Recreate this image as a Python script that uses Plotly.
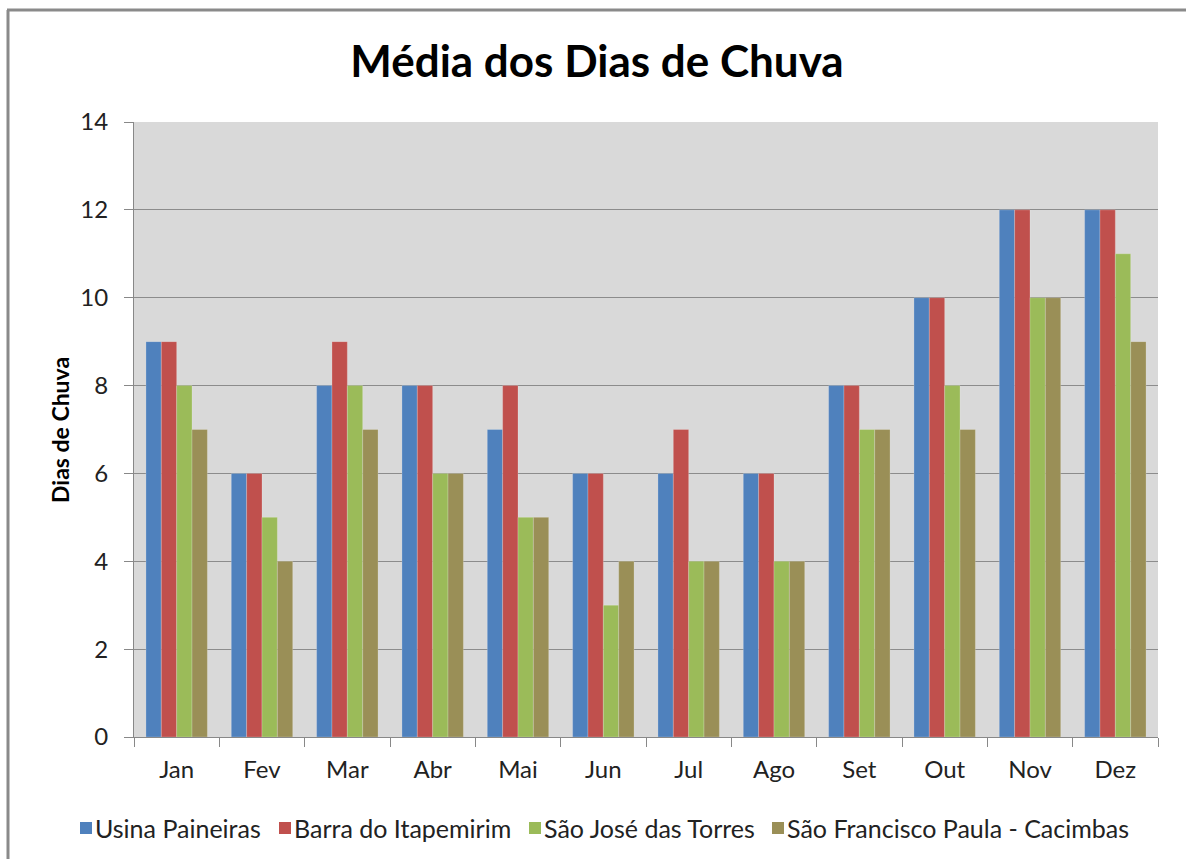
import plotly.graph_objects as go

# Monthly average number of rainy days per station
meses = ["Jan", "Fev", "Mar", "Abr", "Mai", "Jun", "Jul", "Ago", "Set", "Out", "Nov", "Dez"]
usina_paineiras = [9, 6, 8, 8, 7, 6, 6, 6, 8, 10, 12, 12]
barra_itapemirim = [9, 6, 9, 8, 8, 6, 7, 6, 8, 10, 12, 12]
sao_jose_torres = [8, 5, 8, 6, 5, 3, 4, 4, 7, 8, 10, 11]
sao_francisco_cacimbas = [7, 4, 7, 6, 5, 4, 4, 4, 7, 7, 10, 9]

series = [
    ("Usina Paineiras", usina_paineiras, "#4F81BD"),
    ("Barra do Itapemirim", barra_itapemirim, "#C0504D"),
    ("São José das Torres", sao_jose_torres, "#9BBB59"),
    ("São Francisco Paula - Cacimbas", sao_francisco_cacimbas, "#9A8F57"),
]

FONT = "Lato"

fig = go.Figure()
for nome, valores, cor in series:
    fig.add_trace(go.Bar(
        name=nome, x=meses, y=valores, showlegend=False,
        marker=dict(color=cor, line=dict(color="rgba(255,255,255,0.35)", width=0.6)),
    ))

W, H = 1186, 859
L, R, T, B = 134, 28, 122, 122
pw, ph = W - L - R, H - T - B

def px_x(x):
    return (x - L) / pw

def px_y(y):
    return 1 - (y - T) / ph

# single-row legend drawn below the x axis: swatch left edges in pixels
legend_left = [80, 279, 529, 772]
legend_mid = 828
swatch = 12

shapes = [
    # outer chart frame: left and top edges
    dict(type="line", xref="paper", yref="paper",
         x0=px_x(8), x1=px_x(8), y0=px_y(10), y1=px_y(H + 5),
         line=dict(color="#8A8A8A", width=3)),
    dict(type="line", xref="paper", yref="paper",
         x0=px_x(7), x1=px_x(W + 5), y0=px_y(10), y1=px_y(10),
         line=dict(color="#8A8A8A", width=3)),
]
annotations = [dict(
    text="<b>Dias de Chuva</b>",
    xref="paper", yref="paper",
    x=px_x(60), y=px_y(430),
    xanchor="center", yanchor="middle",
    textangle=-90, showarrow=False,
    font=dict(family=FONT, size=23, color="black"),
)]
for (nome, _, cor), x0 in zip(series, legend_left):
    shapes.append(dict(
        type="rect", xref="paper", yref="paper",
        x0=px_x(x0), x1=px_x(x0 + swatch),
        y0=px_y(legend_mid + swatch / 2), y1=px_y(legend_mid - swatch / 2),
        fillcolor=cor, line=dict(width=0),
    ))
    annotations.append(dict(
        text=nome, xref="paper", yref="paper",
        x=px_x(x0 + swatch + 1), y=px_y(legend_mid),
        xanchor="left", yanchor="middle", showarrow=False,
        font=dict(family=FONT, size=25, color="#222222"),
    ))

fig.update_layout(
    width=W, height=H,
    margin=dict(l=L, r=R, t=T, b=B, autoexpand=False),
    paper_bgcolor="white",
    plot_bgcolor="#D9D9D9",
    barmode="group",
    bargap=0.28,
    bargroupgap=0,
    font=dict(family=FONT, color="#222222", size=24),
    title=dict(
        text="<b>Média dos Dias de Chuva</b>",
        x=597 / W, xanchor="center",
        y=1 - 62 / H, yanchor="middle",
        font=dict(family=FONT, size=44, color="black"),
    ),
    showlegend=False,
    xaxis=dict(
        showline=True, linecolor="#888888", linewidth=1,
        ticks="outside", tickson="boundaries", ticklen=9,
        tickcolor="#888888", tickwidth=1,
        showgrid=False,
        tickfont=dict(family=FONT, size=24, color="#222222"),
        ticklabelstandoff=11,
    ),
    yaxis=dict(
        range=[0, 14], dtick=2,
        showline=True, linecolor="#888888", linewidth=1,
        ticks="outside", ticklen=9, tickcolor="#888888", tickwidth=1,
        showgrid=True, gridcolor="#8C8C8C", gridwidth=1,
        zeroline=False,
        tickfont=dict(family=FONT, size=24, color="#222222"),
        ticklabelstandoff=11,
    ),
    annotations=annotations,
    shapes=shapes,
)

fig.write_html("out.html")
